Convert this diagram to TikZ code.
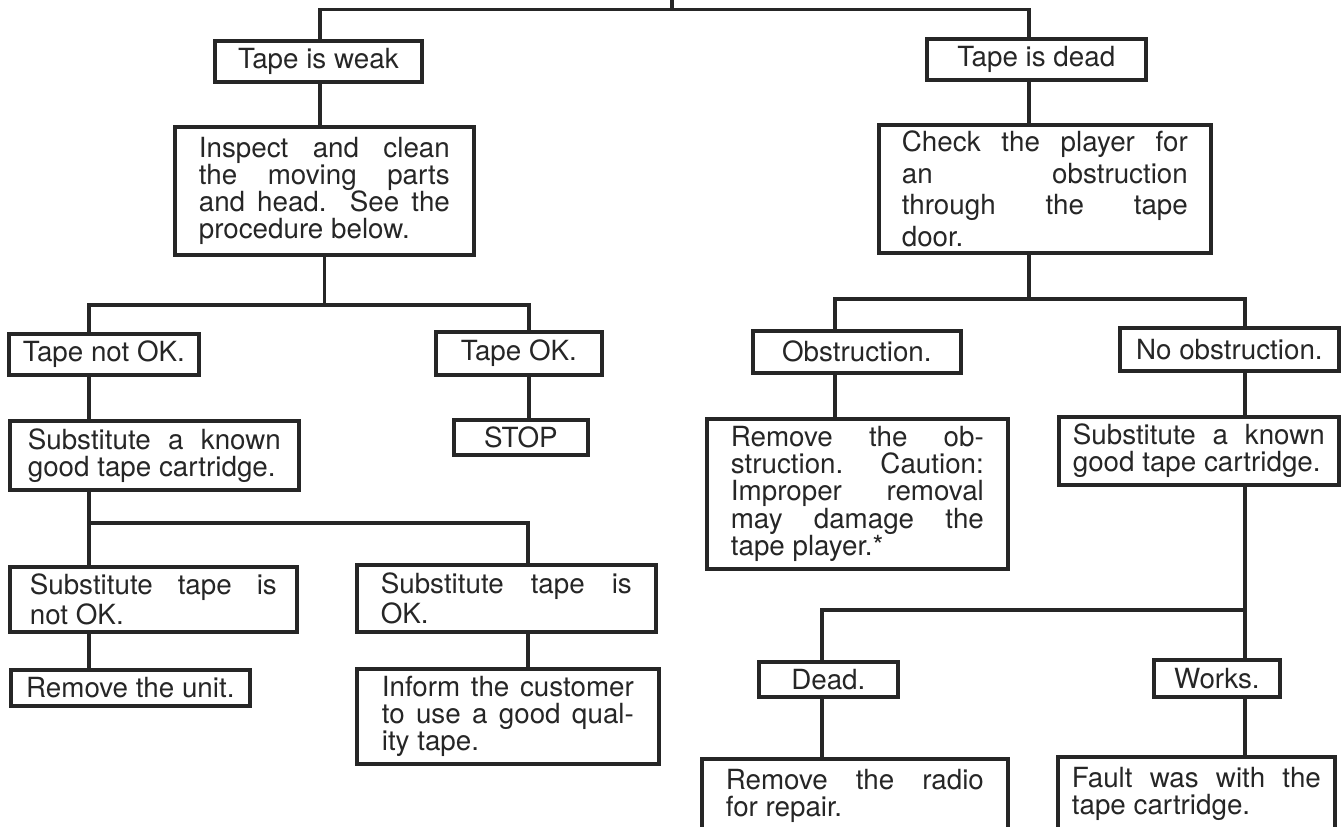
\documentclass[tikz,border=0pt]{standalone}
\usepackage{fontspec}
\setmainfont{TeX Gyre Heros}
\definecolor{ink}{gray}{0.15}
\newcommand{\tapefont}{\fontsize{7.9}{7.7}\selectfont}
\tikzstyle{box} = [
    draw=ink,
    line width=1.05pt,
    anchor=north west,
    inner xsep=0.14cm,
    inner ysep=0pt,
    text=ink,
    font=\tapefont
]
\tikzstyle{link} = [
    draw=ink,
    line width=1.05pt
]

\begin{document}
\begin{tikzpicture}
        \useasboundingbox (0,0) rectangle (13.43,-8.26);

        % Trunk and bus corners
        \coordinate (root) at (6.72,0.05);
        \coordinate (tw) at (3.20,-0.095);
        \coordinate (td) at (10.29,-0.095);
        \coordinate (b1l) at (0.89,-3.05);
        \coordinate (b1r) at (5.29,-3.05);
        \coordinate (b2r) at (5.28,-5.23);
        \coordinate (b3l) at (8.35,-2.99);
        \coordinate (b3r) at (12.45,-2.99);
        \coordinate (b4l) at (8.22,-6.10);

        % Weak tape branch
        \node[box, minimum width=2.07cm, minimum height=0.41cm] (weak) at (2.13,-0.39) {Tape is weak};
        \node[box, inner xsep=0.24cm, text width=2.51cm, align=justify, minimum height=1.28cm] (inspect) at (1.73,-1.25)
            {Inspect and clean\linebreak the moving parts\linebreak and head. See the\linebreak procedure below.};
        \node[box, minimum width=1.88cm, minimum height=0.41cm] (tnok) at (0.07,-3.32) {Tape not OK.};
        \node[box, minimum width=1.66cm, minimum height=0.43cm] (tok) at (4.34,-3.30) {Tape OK.};
        \node[box, minimum width=1.34cm, minimum height=0.35cm] (stop) at (4.52,-4.18) {STOP};
        \node[box, inner xsep=0.18cm, text width=2.53cm, align=justify, minimum height=0.69cm] (subL) at (0.08,-4.19)
            {Substitute a known\linebreak good tape cartridge.};
        \node[box, inner xsep=0.20cm, text width=2.47cm, align=justify, minimum height=0.65cm,
            font=\fontsize{7.9}{8.5}\selectfont] (snok) at (0.08,-5.65)
            {Substitute tape is\linebreak not OK.};
        \node[box, inner xsep=0.24cm, text width=2.51cm, align=justify, minimum height=0.67cm,
            font=\fontsize{7.9}{8.5}\selectfont] (sok) at (3.55,-5.63)
            {Substitute tape is\linebreak OK.};
        \node[box, minimum width=2.39cm, minimum height=0.36cm] (unit) at (0.09,-6.68) {Remove the unit.};
        \node[box, inner xsep=0.25cm, text width=2.52cm, align=justify, minimum height=0.95cm] (inform) at (3.55,-6.67)
            {Inform the customer\linebreak to use a good qual-\linebreak ity tape.};

        % Dead tape branch
        \node[box, minimum width=2.19cm, minimum height=0.41cm] (dead) at (9.25,-0.37) {Tape is dead};
        \node[box, inner xsep=0.23cm, text width=2.86cm, align=justify, minimum height=1.28cm,
            font=\fontsize{7.9}{9.0}\selectfont] (check) at (8.77,-1.23)
            {\rightskip=0.32cm Check the player for\linebreak an obstruction\linebreak through the tape\linebreak door.};
        \node[box, minimum width=2.08cm, minimum height=0.42cm] (obs) at (7.51,-3.29) {Obstruction.};
        \node[box, minimum width=2.19cm, minimum height=0.43cm] (noobs) at (11.18,-3.26) {No obstruction.};
        \node[box, inner xsep=0.24cm, text width=2.53cm, align=justify, minimum height=1.50cm] (rmobs) at (7.05,-4.17)
            {Remove the ob-\linebreak struction. Caution:\linebreak Improper removal\linebreak may damage the\linebreak tape player.*};
        \node[box, inner xsep=0.14cm, text width=2.52cm, align=justify, minimum height=0.68cm] (subR) at (10.57,-4.15)
            {Substitute a known\linebreak good tape cartridge.};
        \node[box, minimum width=1.39cm, minimum height=0.35cm] (dead2) at (7.57,-6.60) {Dead.};
        \node[box, minimum width=1.26cm, minimum height=0.37cm] (works) at (11.52,-6.58) {Works.};
        \node[box, inner xsep=0.24cm, inner ysep=0.10cm, text width=2.58cm, align=justify, text depth=0.4cm] (radio) at (7.00,-7.57)
            {Remove the radio\linebreak for repair.};
        \node[box, inner xsep=0.14cm, inner ysep=0.10cm, text width=2.49cm, align=justify, text depth=0.4cm] (fault) at (10.56,-7.55)
            {Fault was with the\linebreak tape cartridge.};

        % Top split
        \draw[link] (root) -- (root |- tw);
        \draw[link] (weak.north -| tw) -- (tw) -- (td) -- (dead.north -| td);

        % Left side links
        \draw[link] (weak.south -| tw) -- (inspect.north -| tw);
        \draw[link] (inspect.south) -- (inspect.south |- b1l);
        \draw[link] (tnok.north -| b1l) |- (b1r) -- (tok.north -| b1r);
        \draw[link] (tok.south -| b1r) -- (stop.north -| b1r);
        \draw[link] (tnok.south -| b1l) -- (subL.north -| b1l);
        \draw[link] (subL.south -| b1l) -- (snok.north -| b1l);
        \draw[link] (b1l |- b2r) -- (b2r) -- (sok.north -| b2r);
        \draw[link] (snok.south -| b1l) -- (unit.north -| b1l);
        \draw[link] (sok.south -| b2r) -- (inform.north -| b2r);

        % Right side links
        \draw[link] (dead.south -| td) -- (check.north -| td);
        \draw[link] (check.south -| td) -- (td |- b3l);
        \draw[link] (obs.north -| b3l) |- (b3r) -- (noobs.north -| b3r);
        \draw[link] (obs.south -| b3l) -- (rmobs.north -| b3l);
        \draw[link] (noobs.south -| b3r) -- (subR.north -| b3r);
        \draw[link] (subR.south -| b3r) -- (works.north -| b3r);
        \draw[link] (dead2.north -| b4l) |- (b3r |- b4l);
        \draw[link] (dead2.south -| b4l) -- (radio.north -| b4l);
        \draw[link] (works.south -| b3r) -- (fault.north -| b3r);
    \end{tikzpicture}
\end{document}
